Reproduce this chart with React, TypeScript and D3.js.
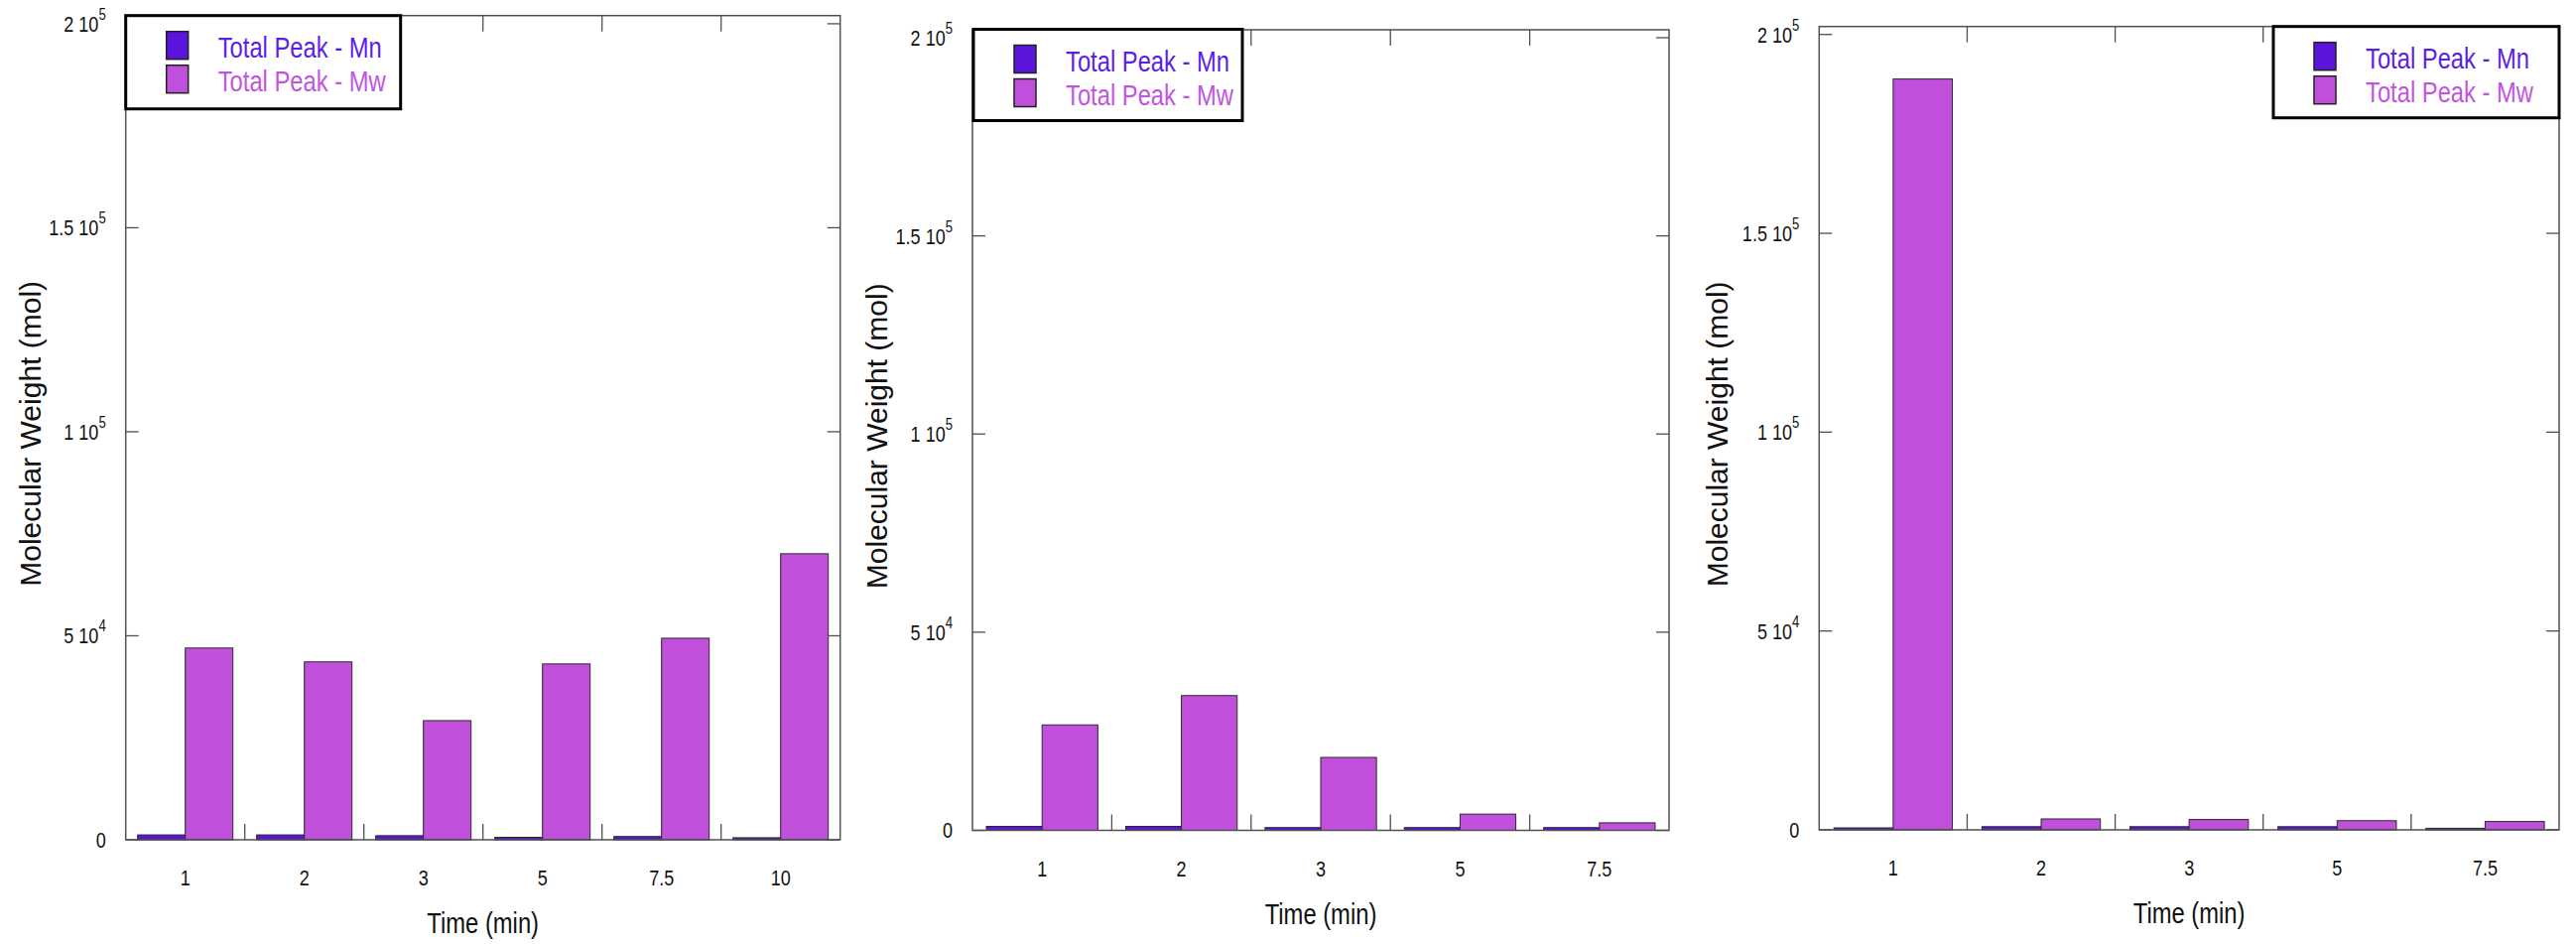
import React from 'react';
import * as d3 from 'd3';

// data
const timesA = ['1', '2', '3', '5', '7.5', '10'];
const mnA = [1200, 1200, 1000, 600, 800, 500];
const mwA = [47000, 43600, 29200, 43100, 49400, 70100];

const timesB = ['1', '2', '3', '5', '7.5'];
const mnB = [1000, 1000, 700, 700, 700];
const mwB = [26600, 34000, 18400, 4100, 1900];

const timesC = ['1', '2', '3', '5', '7.5'];
const mnC = [500, 800, 800, 800, 400];
const mwC = [188800, 2750, 2600, 2300, 2100];

const seriesNames = ['Total Peak - Mn', 'Total Peak - Mw'];
const yTicks = [0, 50000, 100000, 150000, 200000];
const yTickLabels = [['0', ''], ['5 10', '4'], ['1 10', '5'], ['1.5 10', '5'], ['2 10', '5']];
const yMax = 202000;

const barColors = ['#5a14dc', '#c050dc'];
const textColors = ['#5a1ee6', '#c155e0'];
const font = '"Liberation Sans", Arial, Helvetica, sans-serif';
const squeeze = 0.82;

const panels = [
  { times: timesA, mn: mnA, mw: mwA, left: 126.7, right: 846.7, top: 15.7, bottom: 846, legend: { x: 126.7, y: 15.7, w: 277, h: 94 }, yLabelDx: -86 },
  { times: timesB, mn: mnB, mw: mwB, left: 980, right: 1682, top: 30, bottom: 836.5, legend: { x: 981, y: 29.5, w: 271, h: 92 }, yLabelDx: -86 },
  { times: timesC, mn: mnC, mw: mwC, left: 1833.3, right: 2579, top: 26.7, bottom: 836, legend: { x: 2291, y: 26.7, w: 288, h: 92 }, yLabelDx: -92 },
];

const Panel = ({ p }) => {
  const x = d3.scaleBand().domain(p.times).range([p.left, p.right]).paddingInner(0.2).paddingOuter(0.1);
  const sub = d3.scaleBand().domain(seriesNames).range([0, x.bandwidth()]).padding(0);
  const y = d3.scaleLinear().domain([0, yMax]).range([p.bottom, p.top]);
  const step = (p.right - p.left) / p.times.length;
  const boundaries = d3.range(1, p.times.length).map((k) => p.left + k * step);
  const rows = p.times.map((t, i) => ({ t, vals: [p.mn[i], p.mw[i]] }));
  const lg = p.legend;

  return (
    <g>
      {/* bars */}
      {rows.map((r) => (
        <g key={`grp-${r.t}`} transform={`translate(${x(r.t)},0)`}>
          {r.vals.map((v, j) => (
            <rect
              key={`bar-${r.t}-${j}`}
              x={sub(seriesNames[j])}
              y={y(v)}
              width={sub.bandwidth()}
              height={y(0) - y(v)}
              fill={barColors[j]}
              stroke="#2a2a2a"
              strokeWidth={1}
            />
          ))}
        </g>
      ))}

      {/* frame */}
      <rect x={p.left} y={p.top} width={p.right - p.left} height={p.bottom - p.top} fill="none" stroke="#505050" strokeWidth={1.5} />

      {/* y ticks both sides */}
      {yTicks.map((t) => (
        <g key={`yt-${t}`}>
          <line x1={p.left} x2={p.left + 13} y1={y(t)} y2={y(t)} stroke="#505050" strokeWidth={1.3} />
          <line x1={p.right - 13} x2={p.right} y1={y(t)} y2={y(t)} stroke="#505050" strokeWidth={1.3} />
        </g>
      ))}
      {/* x ticks at group boundaries, top and bottom */}
      {boundaries.map((b, i) => (
        <g key={`xt-${i}`}>
          <line x1={b} x2={b} y1={p.bottom} y2={p.bottom - 16} stroke="#505050" strokeWidth={1.3} />
          <line x1={b} x2={b} y1={p.top} y2={p.top + 16} stroke="#505050" strokeWidth={1.3} />
        </g>
      ))}

      {/* y tick labels */}
      {yTicks.map((t, i) => (
        <text
          key={`yl-${t}`}
          transform={`translate(${p.left - 20},${y(t)}) scale(${squeeze},1)`}
          textAnchor="end"
          dy="0.36em"
          fontSize={22}
          fill="#111"
        >
          <tspan>{yTickLabels[i][0]}</tspan>
          {yTickLabels[i][1] && (
            <tspan dy={-12} fontSize={16}>{yTickLabels[i][1]}</tspan>
          )}
        </text>
      ))}

      {/* x tick labels */}
      {p.times.map((t) => (
        <text
          key={`xl-${t}`}
          transform={`translate(${x(t) + x.bandwidth() / 2},${p.bottom + 46}) scale(${squeeze},1)`}
          textAnchor="middle"
          fontSize={22}
          fill="#111"
        >
          {t}
        </text>
      ))}

      {/* axis titles */}
      <text
        transform={`translate(${(p.left + p.right) / 2},${p.bottom + 94}) scale(${squeeze},1)`}
        textAnchor="middle"
        fontSize={29}
        fill="#111"
      >
        Time (min)
      </text>
      <text
        transform={`translate(${p.left + p.yLabelDx},${(p.top + p.bottom) / 2 + 6}) rotate(-90)`}
        textAnchor="middle"
        fontSize={30}
        fill="#111"
      >
        Molecular Weight (mol)
      </text>

      {/* legend */}
      <g transform={`translate(${lg.x},${lg.y})`}>
        <rect width={lg.w} height={lg.h} fill="white" stroke="black" strokeWidth={3} />
        {seriesNames.map((s, j) => (
          <g key={`lg-${j}`}>
            <rect x={41} y={16 + j * 34} width={22} height={28} fill={barColors[j]} stroke="#222" strokeWidth={1.5} />
            <text
              transform={`translate(93,${42 + j * 34}) scale(${squeeze},1)`}
              fontSize={29}
              fill={textColors[j]}
            >
              {s}
            </text>
          </g>
        ))}
      </g>
    </g>
  );
};

export default function App() {
  const width = 2596;
  const height = 951;
  return (
    <svg
      width={width}
      height={height}
      viewBox={`0 0 ${width} ${height}`}
      style={{ position: 'absolute', left: 0, top: 0, background: 'white', fontFamily: font }}
      xmlns="http://www.w3.org/2000/svg"
    >
      {panels.map((p, i) => (
        <Panel key={`panel-${i}`} p={p} />
      ))}
    </svg>
  );
}
